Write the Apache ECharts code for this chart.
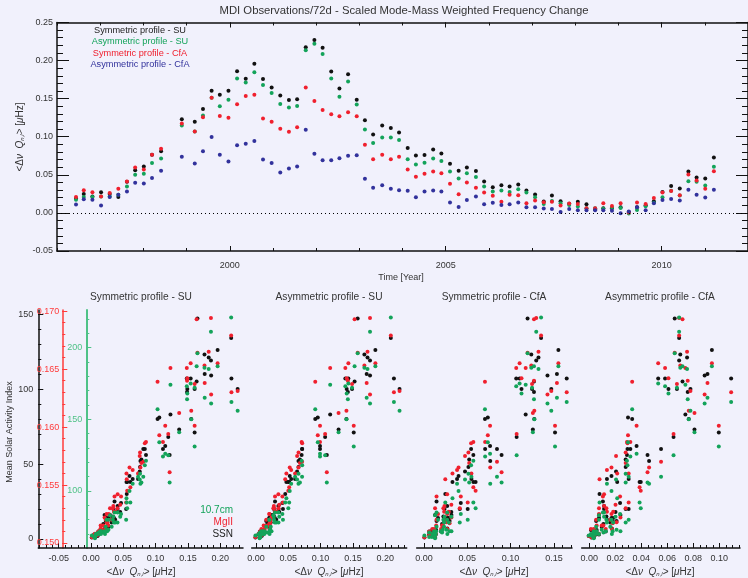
<!DOCTYPE html>
<html>
<head>
<meta charset="utf-8">
<script src="https://cdn.jsdelivr.net/npm/echarts@6/dist/echarts.min.js"></script>
<style>
html, body {margin: 0; padding: 0; background: #f1f1fc;}
#main {width: 748px; height: 578px;}
</style>
</head>
<body>
<div id="main"></div>
<script>
// 72-day MDI sets, mid time of each set [year]
var aTime = [1996.44, 1996.62, 1996.82, 1997.02, 1997.22, 1997.42, 1997.62, 1997.81, 1998.01, 1998.20,
    1998.41, 1998.89, 1999.19, 1999.38, 1999.58, 1999.77, 1999.97, 2000.17, 2000.37, 2000.57,
    2000.77, 2000.97, 2001.17, 2001.37, 2001.56, 2001.76, 2001.96, 2002.15, 2002.35, 2002.54,
    2002.74, 2002.94, 2003.13, 2003.32, 2003.53, 2003.73, 2003.92, 2004.12, 2004.31, 2004.51,
    2004.71, 2004.90, 2005.10, 2005.30, 2005.49, 2005.70, 2005.89, 2006.09, 2006.29, 2006.48,
    2006.68, 2006.87, 2007.07, 2007.27, 2007.46, 2007.66, 2007.86, 2008.06, 2008.26, 2008.46,
    2008.65, 2008.85, 2009.05, 2009.24, 2009.43, 2009.63, 2009.82, 2010.02, 2010.22, 2010.42,
    2010.62, 2010.81, 2011.01, 2011.21];

// frequency change <dnu Q> [uHz]
var aSymSU = [0.019, 0.025, 0.0217, 0.027, 0.025, 0.021, 0.041, 0.056, 0.0609, 0.0765,
    0.0809, 0.123, 0.1196, 0.1365, 0.1604, 0.1552, 0.1604, 0.186, 0.176, 0.196,
    0.1757, 0.1648, 0.1543, 0.1483, 0.1491, 0.2174, 0.227, 0.217, 0.1857, 0.1635,
    0.1822, 0.1487, 0.1217, 0.103, 0.1149, 0.1114, 0.1057, 0.0851, 0.0754, 0.0759,
    0.0833, 0.078, 0.0645, 0.0553, 0.0596, 0.0549, 0.0412, 0.0338, 0.0364, 0.0346,
    0.0373, 0.0294, 0.0241, 0.0149, 0.0228, 0.0154, 0.012, 0.0145, 0.0114, 0.0048,
    0.0061, 0.006, 0.0075, 0.0013, 0.0075, 0.0101, 0.0154, 0.0276, 0.0355, 0.032,
    0.0544, 0.0465, 0.0452, 0.0728];
var aAsymSU = [0.0174, 0.021, 0.021, 0.0217, 0.0217, 0.024, 0.0348, 0.050, 0.0513, 0.0657,
    0.0713, 0.1148, 0.107, 0.1278, 0.1513, 0.14, 0.1487, 0.1765, 0.1713, 0.1848,
    0.1678, 0.1574, 0.143, 0.1383, 0.1404, 0.2135, 0.2222, 0.2087, 0.1765, 0.1526,
    0.1726, 0.1422, 0.1096, 0.0917, 0.0991, 0.0991, 0.0956, 0.0706, 0.0636, 0.0658,
    0.0715, 0.068, 0.0544, 0.0452, 0.0522, 0.047, 0.0346, 0.028, 0.0294, 0.0276,
    0.0312, 0.0268, 0.0206, 0.0118, 0.0158, 0.0128, 0.0105, 0.0083, 0.0061, 0.0061,
    0.0055, 0.007, 0.0066, -0.0009, 0.0039, 0.0088, 0.0132, 0.0206, 0.029, 0.0228,
    0.0417, 0.0408, 0.036, 0.0605];
var aSymCfA = [0.0209, 0.0296, 0.027, 0.0217, 0.026, 0.0317, 0.0413, 0.0596, 0.057, 0.0765,
    0.0843, 0.1174, 0.107, 0.1257, 0.1513, 0.1274, 0.1248, 0.1426, 0.1535, 0.1552,
    0.1239, 0.1196, 0.1104, 0.1065, 0.1126, 0.1648, 0.147, 0.1352, 0.1296, 0.127,
    0.1322, 0.127, 0.0896, 0.0704, 0.0763, 0.0706, 0.0737, 0.057, 0.0474, 0.0513,
    0.0544, 0.0522, 0.0382, 0.0246, 0.0399, 0.0329, 0.0268, 0.0224, 0.0145, 0.0237,
    0.0233, 0.0128, 0.0162, 0.0141, 0.0145, 0.0096, 0.0123, 0.0118, 0.006, 0.006,
    0.0128, 0.0092, 0.0128, 0.0005, 0.0136, 0.0118, 0.0197, 0.0268, 0.0287, 0.0232,
    0.0505, 0.0425, 0.0316, 0.0548];
var aAsymCfA = [0.0109, 0.018, 0.0174, 0.0096, 0.021, 0.024, 0.028, 0.0396, 0.0387, 0.046,
    0.0552, 0.0739, 0.0648, 0.0809, 0.0996, 0.0765, 0.0674, 0.0887, 0.0909, 0.0943,
    0.07, 0.0657, 0.053, 0.0583, 0.0609, 0.1091, 0.0778, 0.0691, 0.0691, 0.0717,
    0.0752, 0.0757, 0.0448, 0.033, 0.0364, 0.0316, 0.0298, 0.029, 0.0206, 0.028,
    0.0294, 0.028, 0.0136, 0.0079, 0.0171, 0.0215, 0.0114, 0.0132, 0.0105, 0.0114,
    0.0136, 0.0075, 0.0075, 0.0057, 0.0053, 0.0013, 0.0053, 0.0035, 0.0035, 0.0035,
    0.0035, 0.003, -0.0004, 0.0017, 0.0075, 0.0035, 0.0127, 0.0171, 0.0184, 0.0162,
    0.0303, 0.0237, 0.0202, 0.0303];

// mean solar activity indices over the same sets
var aSSN = [10, 12, 7, 8, 12, 16, 20, 38, 38, 52,
    60, 83, 68, 73, 71, 80, 100, 109, 110, 126,
    123, 147, 107, 107, 100, 107, 100, 134, 119, 105,
    121, 98, 56, 80, 62, 60, 81, 56, 45, 48,
    60, 53, 40, 30, 42, 38, 22, 15, 25, 20,
    13, 16, 14, 6, 12, 6, 3, 5, 5, 3,
    1, 3, 2, 1, 3, 2, 5, 14, 14, 11,
    20, 24, 18, 40];
var aMgII = [0.1515, 0.1517, 0.1512, 0.1515, 0.1518, 0.1522, 0.1530, 0.1545, 0.1548, 0.1565,
    0.1570, 0.1651, 0.1594, 0.1612, 0.1601, 0.1614, 0.1637, 0.1628, 0.1638, 0.1655,
    0.1653, 0.1664, 0.1655, 0.1651, 0.1642, 0.1630, 0.1631, 0.1679, 0.1694, 0.1693,
    0.1665, 0.1640, 0.1561, 0.1639, 0.1601, 0.1587, 0.1593, 0.1587, 0.1575, 0.1578,
    0.1586, 0.1569, 0.1563, 0.1555, 0.1565, 0.1560, 0.1542, 0.1530, 0.1540, 0.1532,
    0.1527, 0.1530, 0.1525, 0.1515, 0.1520, 0.1512, 0.1510, 0.1512, 0.1510, 0.1507,
    0.1506, 0.1508, 0.1506, 0.1505, 0.1508, 0.1507, 0.1512, 0.1525, 0.1527, 0.1520,
    0.1535, 0.1540, 0.1533, 0.1560];
var aF107 = [71, 72, 70, 73, 73, 72, 78, 88, 92, 105,
    110, 174, 125, 141, 131, 150, 172, 161, 165, 187,
    186, 196, 175, 173, 168, 162, 156, 221, 211, 187,
    185, 164, 106, 157, 126, 124, 134, 121, 108, 112,
    118, 106, 105, 92, 100, 95, 85, 80, 85, 82,
    78, 83, 80, 72, 75, 70, 70, 72, 71, 68,
    67, 68, 69, 69, 70, 70, 72, 80, 78, 75,
    80, 84, 82, 110];

// tick labels
var aYearLabels = [2000, 2005, 2010];
var aTopYLabels = [-0.05, 0.00, 0.05, 0.10, 0.15, 0.20, 0.25];
var aSSNLabels = [0, 50, 100, 150];
var aMgIILabels = [0.150, 0.155, 0.160, 0.165, 0.170];
var aF107Labels = [100, 150, 200];
var aPanelXLabels = [
    [-0.05, 0.00, 0.05, 0.10, 0.15, 0.20],
    [0.00, 0.05, 0.10, 0.15, 0.20],
    [0.00, 0.05, 0.10, 0.15],
    [0.00, 0.02, 0.04, 0.06, 0.08, 0.10]
];
var aPanelTitles = ['Symmetric profile - SU', 'Asymmetric profile - SU',
    'Symmetric profile - CfA', 'Asymmetric profile - CfA'];

var sFont = '"Liberation Sans", Arial, sans-serif';
var sBg = '#f1f1fc';
var cBlack = '#111111', cGreen = '#13a35a', cRed = '#f0202e', cBlue = '#32329c';
var cRedAxis = '#ff3b3b', cGreenAxis = '#4fc287';

function Steps(nFrom, nTo, nStep) {
    var aOut = [];
    for (var v = nFrom; v <= nTo + nStep / 1000; v += nStep) {
        aOut.push(Math.round(v * 100000) / 100000);
    }
    return aOut;
}

function Pairs(aX, aY) {
    var aOut = [];
    for (var i = 0; i < aX.length; i++) {
        if (aX[i] == null || aY[i] == null) continue;
        aOut.push([aX[i], aY[i]]);
    }
    return aOut;
}

function Merge(jA, jB) {
    for (var s in jB) jA[s] = jB[s];
    return jA;
}

// axis drawing only the line and inward ticks at the given values
function TickAxis(jBase, aTicks, nLen, jLine, sTickColor) {
    return Merge({
        type: 'value',
        axisLine: Merge({show: false, onZero: false}, jLine || {}),
        splitLine: {show: false},
        axisTick: {show: true, inside: true, length: nLen, customValues: aTicks,
            lineStyle: {color: sTickColor || cBlack, width: 1}},
        axisLabel: {show: false}
    }, jBase);
}

// axis drawing only labels
function LabelAxis(jBase, aLabels, fFmt, jLabelStyle) {
    return Merge({
        type: 'value',
        axisLine: {show: false, onZero: false},
        splitLine: {show: false},
        axisTick: {show: false},
        axisLabel: Merge({show: true, customValues: aLabels, formatter: fFmt,
            fontFamily: sFont, fontSize: 9, color: '#333', margin: 5}, jLabelStyle || {})
    }, jBase);
}

function Txt(sText, nX, nY, sColor, nSize, sAlign, nRot, jRich) {
    return {
        type: 'text', x: nX, y: nY, rotation: nRot || 0, silent: true, z: 100,
        style: {
            text: sText, fill: sColor, font: nSize + 'px ' + sFont,
            align: sAlign || 'center', textAlign: sAlign || 'center',
            verticalAlign: 'middle', textVerticalAlign: 'middle',
            rich: jRich
        }
    };
}

var jRichQ = {
    i: {fontFamily: sFont, fontSize: 10, fontStyle: 'italic', fill: '#333'},
    s: {fontFamily: sFont, fontSize: 6, fontStyle: 'italic', fill: '#333', padding: [5, 0, 0, 0]}
};
var sQName = '<Δ{i|ν}  {i|Q}{s|n,l}> [{i|μ}Hz]';

var aGrid = [
    {left: 57, top: 22.5, width: 694, height: 228.5},
    {left: 38.3, top: 310, width: 204.7, height: 238},
    {left: 251.7, top: 310, width: 155, height: 238},
    {left: 416.7, top: 310, width: 155.3, height: 238},
    {left: 581.7, top: 310, width: 158.3, height: 238}
];
var aPanelRange = [[-0.0816, 0.2353], [-0.0067, 0.2333], [-0.0084, 0.1709], [-0.0058, 0.1159]];
var aPanelMinor = [Steps(-0.08, 0.23, 0.01), Steps(0, 0.23, 0.01), Steps(0, 0.17, 0.01), Steps(0, 0.115, 0.005)];
var aPanelX = [aSymSU, aAsymSU, aSymCfA, aAsymCfA];
var aPanelCenter = [141, 329, 494, 660];

var jLineTop = {show: true, lineStyle: {color: cBlack, width: 1.5}};
var xAxes = [];
var yAxes = [];

// top panel: x index 0 carries the data
var jYear = {gridIndex: 0, min: 1996, max: 2012};
xAxes.push(TickAxis(Merge({position: 'bottom'}, jYear), aYearLabels, 5, jLineTop));
xAxes.push(TickAxis(Merge({position: 'bottom'}, jYear), Steps(1996, 2012, 1), 3));
xAxes.push(TickAxis(Merge({position: 'top'}, jYear), aYearLabels, 5, jLineTop));
xAxes.push(TickAxis(Merge({position: 'top'}, jYear), Steps(1996, 2012, 1), 3));
xAxes.push(LabelAxis(Merge({position: 'bottom'}, jYear), aYearLabels,
    function (v) { return String(v); }, {margin: 10}));

var jShift = {gridIndex: 0, min: -0.05, max: 0.25};
yAxes.push(TickAxis(Merge({position: 'left'}, jShift), aTopYLabels, 12, jLineTop));
yAxes.push(TickAxis(Merge({position: 'left'}, jShift), Steps(-0.05, 0.25, 0.01), 6));
yAxes.push(TickAxis(Merge({position: 'right'}, jShift), aTopYLabels, 12, jLineTop));
yAxes.push(TickAxis(Merge({position: 'right'}, jShift), Steps(-0.05, 0.25, 0.01), 6));
yAxes.push(LabelAxis(Merge({position: 'left'}, jShift), aTopYLabels,
    function (v) { return v.toFixed(2); }, {margin: 4}));

// bottom panels: data x axis index = 5 + 3p
for (var p = 0; p < 4; p++) {
    var jP = {gridIndex: p + 1, position: 'bottom', min: aPanelRange[p][0], max: aPanelRange[p][1]};
    xAxes.push(TickAxis(Merge({}, jP), aPanelXLabels[p], 5, {show: true, lineStyle: {color: cBlack, width: 1.5}}));
    xAxes.push(TickAxis(Merge({}, jP), aPanelMinor[p], 3));
    xAxes.push(LabelAxis(Merge({}, jP), aPanelXLabels[p], function (v) { return v.toFixed(2); }, {margin: 6}));
}

// activity axes, shared ranges
var jSSN = {min: -6, max: 152.7};
var jMg = {min: 0.14957, max: 0.17009};
var jF = {min: 60.25, max: 226.2};

// panel 1 visible axes: SSN data index 5, MgII 8, F10.7 11
yAxes.push(TickAxis(Merge({gridIndex: 1, position: 'left', offset: 0}, jSSN), aSSNLabels, 5,
    {show: true, lineStyle: {color: cBlack, width: 1.5}}));
yAxes.push(TickAxis(Merge({gridIndex: 1, position: 'left', offset: 0}, jSSN), Steps(0, 150, 10), 3));
yAxes.push(LabelAxis(Merge({gridIndex: 1, position: 'left', offset: 0}, jSSN), aSSNLabels,
    function (v) { return String(v); }, {margin: 5}));
yAxes.push(TickAxis(Merge({gridIndex: 1, position: 'left', offset: -24}, jMg), aMgIILabels, 5,
    {show: true, lineStyle: {color: cRedAxis, width: 1.5}}, cRedAxis));
yAxes.push(TickAxis(Merge({gridIndex: 1, position: 'left', offset: -24}, jMg), Steps(0.150, 0.170, 0.001), 3,
    null, cRedAxis));
yAxes.push(LabelAxis(Merge({gridIndex: 1, position: 'left', offset: -24}, jMg), aMgIILabels,
    function (v) { return v.toFixed(3); }, {margin: 3, color: cRedAxis}));
yAxes.push(TickAxis(Merge({gridIndex: 1, position: 'left', offset: -48}, jF), aF107Labels, 5,
    {show: true, lineStyle: {color: cGreenAxis, width: 2}}, cGreenAxis));
yAxes.push(TickAxis(Merge({gridIndex: 1, position: 'left', offset: -48}, jF), Steps(70, 220, 10), 3,
    null, cGreenAxis));
yAxes.push(LabelAxis(Merge({gridIndex: 1, position: 'left', offset: -48}, jF), aF107Labels,
    function (v) { return String(v); }, {margin: 4, color: cGreenAxis}));

// hidden activity axes for panels 2..4: index 14 + 3(q-2)
for (var q = 2; q <= 4; q++) {
    yAxes.push(Merge({type: 'value', gridIndex: q, show: false}, jSSN));
    yAxes.push(Merge({type: 'value', gridIndex: q, show: false}, jMg));
    yAxes.push(Merge({type: 'value', gridIndex: q, show: false}, jF));
}

function Dots(sName, aData, sColor, nX, nY) {
    return {
        name: sName, type: 'scatter', xAxisIndex: nX, yAxisIndex: nY, data: aData,
        symbol: 'circle', symbolSize: 4, silent: true, animation: false,
        itemStyle: {color: sColor, opacity: 1}
    };
}

var aSeries = [];
var jBlackTop = Dots('Symmetric profile - SU', Pairs(aTime, aSymSU), cBlack, 0, 0);
jBlackTop.markLine = {
    silent: true, symbol: 'none', label: {show: false}, animation: false,
    lineStyle: {color: '#000', width: 1, type: [1, 3]},
    data: [{yAxis: 0}]
};
aSeries.push(jBlackTop);
aSeries.push(Dots('Asymmetric profile - SU', Pairs(aTime, aAsymSU), cGreen, 0, 0));
aSeries.push(Dots('Symmetric profile - CfA', Pairs(aTime, aSymCfA), cRed, 0, 0));
aSeries.push(Dots('Asymmetric profile - CfA', Pairs(aTime, aAsymCfA), cBlue, 0, 0));

for (var k = 0; k < 4; k++) {
    var nXi = 5 + 3 * k;
    var nSSNi = k == 0 ? 5 : 14 + 3 * (k - 1);
    var nMgi = k == 0 ? 8 : nSSNi + 1;
    var nFi = k == 0 ? 11 : nSSNi + 2;
    aSeries.push(Dots('SSN', Pairs(aPanelX[k], aSSN), cBlack, nXi, nSSNi));
    aSeries.push(Dots('MgII', Pairs(aPanelX[k], aMgII), cRed, nXi, nMgi));
    aSeries.push(Dots('10.7cm', Pairs(aPanelX[k], aF107), cGreen, nXi, nFi));
}

var aGraphic = [
    Txt('MDI Observations/72d - Scaled Mode-Mass Weighted Frequency Change', 404, 11, '#333', 11.3),
    Txt('Symmetric profile - SU', 140, 30, '#222', 9.2),
    Txt('Asymmetric profile - SU', 140, 41.7, cGreen, 9.2),
    Txt('Symmetric profile - CfA', 140, 53.3, cRed, 9.2),
    Txt('Asymmetric profile - CfA', 140, 64.5, cBlue, 9.2),
    Txt(sQName, 20, 137, '#333', 10, 'center', Math.PI / 2, jRichQ),
    Txt('Time [Year]', 401, 278, '#333', 9),
    Txt('Mean Solar Activity Index', 10, 432, '#333', 9, 'center', Math.PI / 2),
    Txt('10.7cm', 233, 510, cGreen, 10, 'right'),
    Txt('MgII', 233, 522, cRed, 10, 'right'),
    Txt('SSN', 233, 534, '#222', 10, 'right')
];
for (var t = 0; t < 4; t++) {
    aGraphic.push(Txt(aPanelTitles[t], aPanelCenter[t], 297, '#333', 10.2));
    aGraphic.push(Txt(sQName, aPanelCenter[t], 572, '#333', 10, 'center', 0, jRichQ));
}

var jOption = {
    backgroundColor: sBg,
    animation: false,
    grid: aGrid,
    xAxis: xAxes,
    yAxis: yAxes,
    series: aSeries,
    graphic: aGraphic
};

var oChart = echarts.init(document.getElementById('main'), null, {renderer: 'canvas'});
oChart.setOption(jOption);
</script>
</body>
</html>
